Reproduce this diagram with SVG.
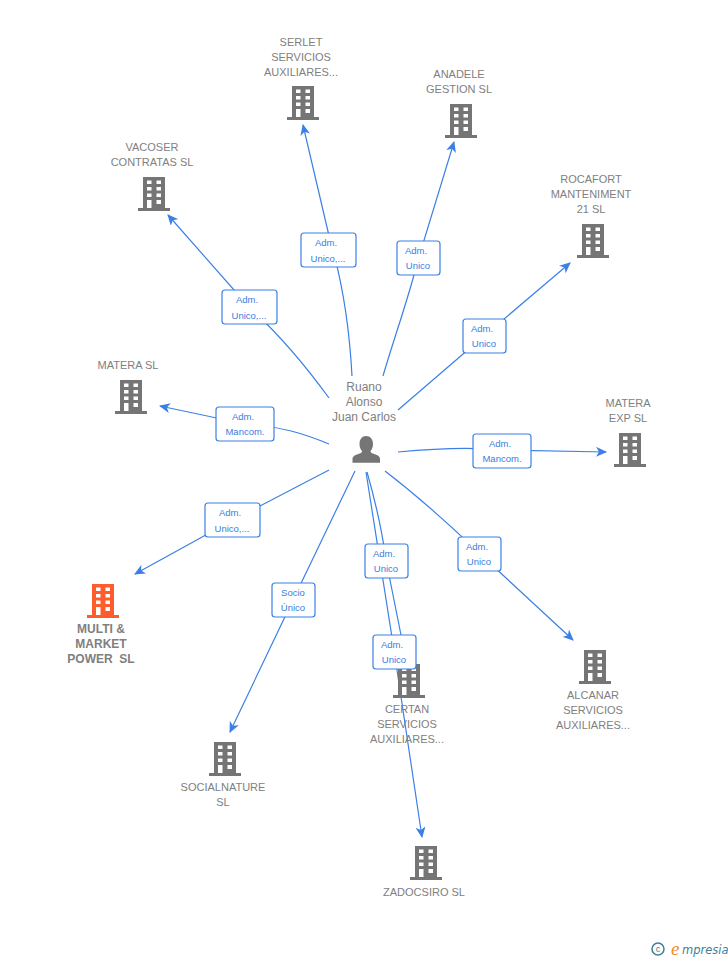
<svg xmlns="http://www.w3.org/2000/svg" width="728" height="960" viewBox="0 0 728 960">
<style>
text{font-family:"Liberation Sans",Arial,sans-serif}
.n{font-size:11px;fill:#808080;text-anchor:middle}
.b{font-weight:bold;font-size:12px}
.p{font-size:12px}
.l{font-size:9.5px;fill:#3a7de0;text-anchor:middle}
.e{fill:none;stroke:#3b80e6;stroke-width:1.2}
.box{fill:#fff;stroke:#3b80e6;stroke-width:1.2}
.w{fill:#fff}
</style>
<defs>
<marker id="a" viewBox="0 0 12 10" refX="10" refY="5" markerWidth="12" markerHeight="10" markerUnits="userSpaceOnUse" orient="auto"><path d="M0 0L11 5L0 10L3 5Z" fill="#3b80e6"/></marker>
<g id="bld">
<path d="M-11 0H11V31H16V34H-16V31H-11Z"/>
<path class="w" d="M-7 3.500h4.500v3.500h-4.500zM2.500 3.500h4.500v3.500h-4.500zM-7 10h4.500v3.500h-4.500zM2.500 10h4.500v3.500h-4.500zM-7 16.500h4.500v3.500h-4.500zM2.500 16.500h4.500v3.500h-4.500zM-7 23h4.500v8h-4.500zM2.500 23h4.500v4h-4.500z"/>
</g>
</defs>
<rect width="728" height="960" fill="#fff"/>
<g id="connectors">
<path class="e" marker-end="url(#a)" d="M352 376C349 320 342 280 330 240L303 125"/>
<path class="e" marker-end="url(#a)" d="M383 376C395 335 408 300 418 260L454 142"/>
<path class="e" marker-end="url(#a)" d="M398 410L484 336L570 263"/>
<path class="e" marker-end="url(#a)" d="M329 398C305 365 280 335 249 307L168 215"/>
<path class="e" marker-end="url(#a)" d="M329 444C305 434 280 426 245 424L160 406"/>
<path class="e" marker-end="url(#a)" d="M398 452C430 449 470 447 502 450L606 452"/>
<path class="e" marker-end="url(#a)" d="M329 470L233 520L135 574"/>
<path class="e" marker-end="url(#a)" d="M355 471L293 600L230 732"/>
<path class="e" marker-end="url(#a)" d="M385 471C420 498 450 525 479 553L573 640"/>
<path class="e" marker-end="url(#a)" d="M367 472C375 500 382 530 386 560L405 655"/>
<path class="e" marker-end="url(#a)" d="M366 472C372 510 380 560 394 650L422 837"/>
</g>
<g id="node-person"><text class="n p" x="364" y="391">Ruano</text><text class="n p" x="364" y="406">Alonso</text><text class="n p" x="364" y="421">Juan Carlos</text>
<path fill="#757575" d="M366 436c4.500 0 7 3.500 7 8 0 3-1 5.500-2.500 7 0 1.500 1 2 3 2.700 4 1.300 6.500 2.500 6.500 5.300v3.700h-27.500v-3.700c0-2.800 2.500-4 6.500-5.300 2-.7 3-1.200 3-2.700-1.500-1.500-2.500-4-2.500-7 0-4.500 2.500-8 6.500-8z"/></g>
<g id="node-serlet" fill="#757575"><use href="#bld" x="303" y="86"/><text class="n" x="301" y="46">SERLET</text><text class="n" x="301" y="61">SERVICIOS</text><text class="n" x="301" y="76">AUXILIARES...</text></g>
<g id="node-anadele" fill="#757575"><use href="#bld" x="461" y="104"/><text class="n" x="459" y="78">ANADELE</text><text class="n" x="459" y="93">GESTION SL</text></g>
<g id="node-rocafort" fill="#757575"><use href="#bld" x="593" y="224"/><text class="n" x="591" y="183">ROCAFORT</text><text class="n" x="591" y="198">MANTENIMENT</text><text class="n" x="591" y="213">21 SL</text></g>
<g id="node-vacoser" fill="#757575"><use href="#bld" x="154" y="177"/><text class="n" x="152" y="151">VACOSER</text><text class="n" x="152" y="166">CONTRATAS SL</text></g>
<g id="node-matera" fill="#757575"><use href="#bld" x="131" y="380"/><text class="n" x="128" y="369">MATERA SL</text></g>
<g id="node-matera-exp" fill="#757575"><use href="#bld" x="630" y="433"/><text class="n" x="628" y="407">MATERA</text><text class="n" x="628" y="422">EXP  SL</text></g>
<g id="node-multi" fill="#ff5c2e"><use href="#bld" x="103" y="584"/><text class="n b" x="101" y="633">MULTI &amp;</text><text class="n b" x="101" y="648">MARKET</text><text class="n b" x="101" y="663" xml:space="preserve">POWER  SL</text></g>
<g id="node-socialnature" fill="#757575"><use href="#bld" x="225" y="742"/><text class="n" x="223" y="791">SOCIALNATURE</text><text class="n" x="223" y="806">SL</text></g>
<g id="node-certan" fill="#757575"><use href="#bld" x="409" y="664"/><text class="n" x="407" y="713">CERTAN</text><text class="n" x="407" y="728">SERVICIOS</text><text class="n" x="407" y="743">AUXILIARES...</text></g>
<g id="node-zadocsiro" fill="#757575"><use href="#bld" x="426" y="846"/><text class="n" x="424" y="896">ZADOCSIRO SL</text></g>
<g id="node-alcanar" fill="#757575"><use href="#bld" x="595" y="650"/><text class="n" x="593" y="699">ALCANAR</text><text class="n" x="593" y="714">SERVICIOS</text><text class="n" x="593" y="729">AUXILIARES...</text></g>
<g id="edge-labels">
<rect class="box" x="301" y="233" width="55" height="34" rx="3"/><text class="l" x="326" y="246">Adm.</text><text class="l" x="328" y="262">Unico,...</text>
<rect class="box" x="397" y="241" width="43" height="34" rx="3"/><text class="l" x="416" y="254">Adm.</text><text class="l" x="418" y="269">Unico</text>
<rect class="box" x="463" y="319" width="43" height="34" rx="3"/><text class="l" x="482" y="332">Adm.</text><text class="l" x="484" y="347">Unico</text>
<rect class="box" x="222" y="290" width="55" height="34" rx="3"/><text class="l" x="247" y="303">Adm.</text><text class="l" x="249" y="319">Unico,...</text>
<rect class="box" x="216" y="407" width="58" height="34" rx="3"/><text class="l" x="243" y="420">Adm.</text><text class="l" x="245" y="435">Mancom.</text>
<rect class="box" x="473" y="434" width="58" height="34" rx="3"/><text class="l" x="500" y="447">Adm.</text><text class="l" x="502" y="462">Mancom.</text>
<rect class="box" x="205" y="503" width="55" height="34" rx="3"/><text class="l" x="230" y="516">Adm.</text><text class="l" x="232" y="532">Unico,...</text>
<rect class="box" x="272" y="583" width="43" height="34" rx="3"/><text class="l" x="293" y="596">Socio</text><text class="l" x="293" y="611">Único</text>
<rect class="box" x="458" y="537" width="43" height="34" rx="3"/><text class="l" x="477" y="550">Adm.</text><text class="l" x="479" y="565">Unico</text>
<rect class="box" x="365" y="544" width="43" height="34" rx="3"/><text class="l" x="384" y="557">Adm.</text><text class="l" x="386" y="572">Unico</text>
<rect class="box" x="373" y="635" width="43" height="34" rx="3"/><text class="l" x="392" y="648">Adm.</text><text class="l" x="394" y="663">Unico</text>
</g>
<g id="logo"><circle cx="658" cy="949" r="6" fill="none" stroke="#3f7f96" stroke-width="1.500"/><text x="658" y="952" font-size="9" fill="#3f7f96" text-anchor="middle">c</text><text x="671" y="955" style="font-family:'Liberation Serif',serif;font-style:italic" font-size="19" fill="#f08a1d">e</text><text x="682" y="954" style="font-family:'DejaVu Sans',sans-serif;font-style:italic" font-size="11.500" fill="#3f7f96">mpresia</text></g>
</svg>
